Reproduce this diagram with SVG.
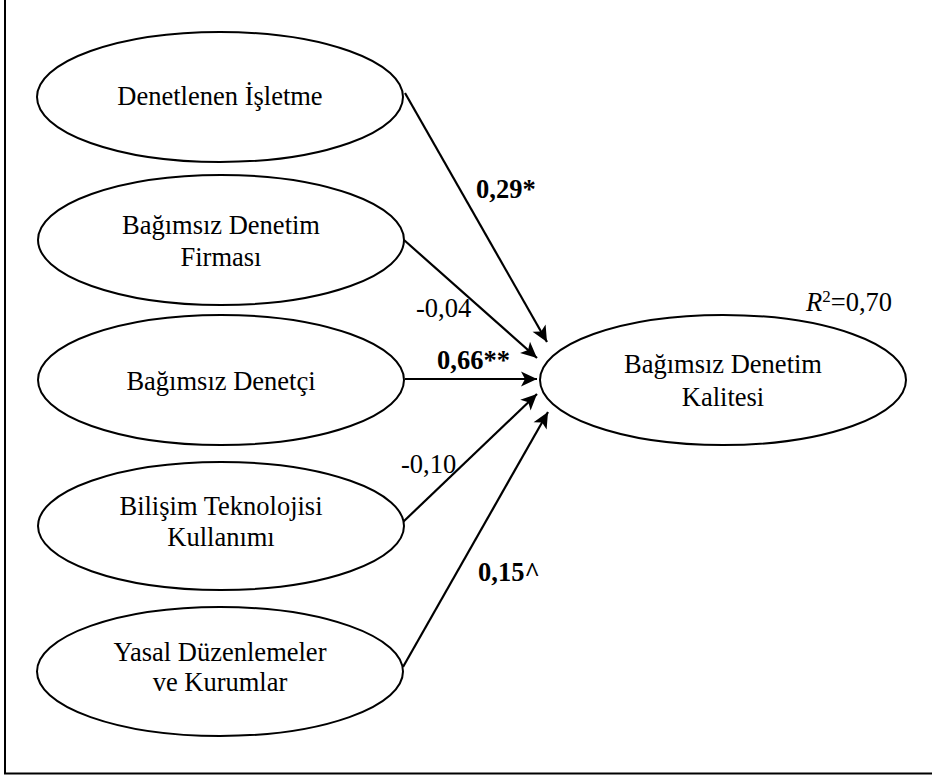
<svg xmlns="http://www.w3.org/2000/svg" width="932" height="779" viewBox="0 0 932 779">
<style>
.node ellipse{fill:#fff;stroke:#000;stroke-width:2}
.t{font-family:"Liberation Serif","Times New Roman",serif;font-size:26.5px;fill:#000}
.c{text-anchor:middle}
.b{font-weight:bold}
.conn line{stroke:#000;stroke-width:2.2;marker-end:url(#ah)}
</style>
<defs>
<marker id="ah" markerUnits="userSpaceOnUse" markerWidth="20" markerHeight="20" viewBox="-18 -10 20 20" refX="0" refY="0" orient="auto">
<path d="M0,0 L-16,-7.5 L-12,0 L-16,7.5 Z" fill="#000"/>
</marker>
</defs>
<rect width="932" height="779" fill="#fff"/>
<path d="M5,-5 V773.5 H940" fill="none" stroke="#000" stroke-width="2"/>
<g class="conn">
<line x1="405" y1="93" x2="547" y2="342"/>
<line x1="404" y1="240" x2="537" y2="358"/>
<line x1="405" y1="379" x2="537" y2="379"/>
<line x1="403" y1="522" x2="537" y2="394"/>
<line x1="403" y1="667" x2="548" y2="412"/>
</g>
<g id="n1" class="node"><ellipse cx="220" cy="97" rx="183" ry="65"/><text class="t c" x="220" y="105">Denetlenen İşletme</text></g>
<g id="n2" class="node"><ellipse cx="221" cy="240" rx="183" ry="65"/><text class="t c" x="221" y="234">Bağımsız Denetim</text><text class="t c" x="221" y="266">Firması</text></g>
<g id="n3" class="node"><ellipse cx="221" cy="380" rx="183" ry="65"/><text class="t c" x="221" y="390">Bağımsız Denetçi</text></g>
<g id="n4" class="node"><ellipse cx="221" cy="526" rx="183" ry="64"/><text class="t c" x="221" y="515">Bilişim Teknolojisi</text><text class="t c" x="221" y="546">Kullanımı</text></g>
<g id="n5" class="node"><ellipse cx="220" cy="671.5" rx="183" ry="64.5"/><text class="t c" x="220" y="661">Yasal Düzenlemeler</text><text class="t c" x="220" y="691">ve Kurumlar</text></g>
<g id="n6" class="node"><ellipse cx="723" cy="380" rx="183" ry="65"/><text class="t c" x="723" y="373">Bağımsız Denetim</text><text class="t c" x="723" y="406">Kalitesi</text></g>
<g id="labels">
<text class="t b" x="476" y="198">0,29*</text>
<text class="t" x="416" y="317">-0,04</text>
<text class="t b" x="437" y="369">0,66**</text>
<text class="t" x="401" y="473">-0,10</text>
<text class="t b" x="478" y="581">0,15^</text>
<text class="t" x="806" y="311"><tspan font-style="italic">R</tspan><tspan dy="-9" font-size="17">2</tspan><tspan dy="9">=0,70</tspan></text>
</g>
</svg>
